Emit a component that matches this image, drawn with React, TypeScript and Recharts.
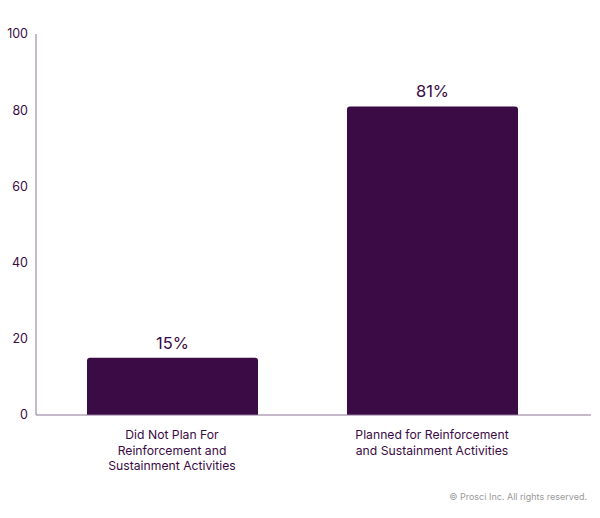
import React from "react";
import { BarChart, Bar, XAxis, YAxis, LabelList } from "recharts";

const categories = ["Did Not Plan For Reinforcement and Sustainment Activities", "Planned for Reinforcement and Sustainment Activities"];
const categoryLines = [
  ["Did Not Plan For", "Reinforcement and", "Sustainment Activities"],
  ["Planned for Reinforcement", "and Sustainment Activities"],
];
const values = [15, 81];
const valueLabels = ["15%", "81%"];
const yTicks = [0, 20, 40, 60, 80, 100];

const data = categories.map((c, i) => ({ name: c, value: values[i], label: valueLabels[i], idx: i }));

const DARK = "#3a0b45";
const FONT = "Inter, 'Noto Sans', sans-serif";

const XTick = (props: any) => {
  const { x, y, payload } = props;
  const lines = categoryLines[payload.index] || [String(payload.value)];
  return (
    <text x={x} y={y} textAnchor="middle" fill={DARK} fontSize={12.2} fontFamily={FONT}>
      {lines.map((l, i) => (
        <tspan key={i} x={x} dy={i === 0 ? 16 : 15.5}>
          {l}
        </tspan>
      ))}
    </text>
  );
};

export default function App() {
  return (
    <div style={{ position: "absolute", left: 0, top: 0, width: 600, height: 518, background: "#fff" }}>
      <BarChart
        width={600}
        height={518}
        data={data}
        margin={{ top: 34, right: 9, bottom: 43, left: 0 }}
        barCategoryGap={0}
      >
        <XAxis
          dataKey="name"
          tick={<XTick />}
          tickLine={false}
          axisLine={{ stroke: "#8d7398", strokeWidth: 1 }}
          interval={0}
          height={60}
          padding={{ left: 6, right: 29 }}
        />
        <YAxis
          domain={[0, 100]}
          ticks={yTicks}
          width={36}
          tickLine={false}
          tickSize={4}
          tickMargin={4}
          axisLine={{ stroke: "#8d7398", strokeWidth: 1 }}
          tick={{ fill: DARK, fontSize: 12.5, fontFamily: FONT }}
        />
        <Bar dataKey="value" fill={DARK} barSize={171} radius={[3, 3, 0, 0]} isAnimationActive={false}>
          <LabelList dataKey="label" position="top" offset={9} fill={DARK} fontSize={16.5} fontFamily={FONT} />
        </Bar>
      </BarChart>
      <div
        style={{
          position: "absolute",
          right: 13,
          top: 491,
          fontFamily: FONT,
          fontSize: 9,
          color: "#9a9a9a",
        }}
      >
        © Prosci Inc. All rights reserved.
      </div>
    </div>
  );
}
